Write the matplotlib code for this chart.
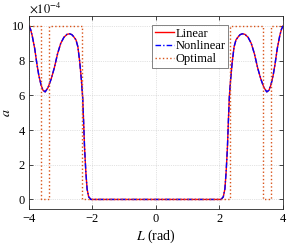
import numpy as np
import matplotlib
matplotlib.use('Agg')
import matplotlib.pyplot as plt

plt.rcParams['font.family'] = ['Liberation Serif', 'DejaVu Serif']
plt.rcParams['mathtext.fontset'] = 'stix'

# curve values, a in units of 1e-4
L_curve = [-4.0, -3.95, -3.9, -3.82, -3.75, -3.69, -3.62, -3.56, -3.49, -3.4,
           -3.3, -3.2, -3.1, -3.0, -2.9, -2.8, -2.72, -2.65, -2.6, -2.52,
           -2.46, -2.4, -2.35, -2.31, -2.28, -2.25, -2.21, -2.17, -2.12, -2.05,
           -2.0, 2.0,
           2.05, 2.12, 2.17, 2.21, 2.25, 2.28, 2.31, 2.35, 2.4, 2.46,
           2.52, 2.6, 2.65, 2.72, 2.8, 2.9, 3.0, 3.1, 3.2, 3.3,
           3.4, 3.49, 3.56, 3.62, 3.69, 3.75, 3.82, 3.9, 3.95, 4.0]
a_linear = [10.0, 9.8, 9.45, 8.7, 7.8, 7.15, 6.6, 6.3, 6.2, 6.45,
            6.95, 7.6, 8.4, 9.0, 9.35, 9.52, 9.55, 9.5, 9.4, 9.2,
            8.8, 7.9, 6.9, 5.9, 4.5, 3.0, 1.6, 0.6, 0.15, 0.0,
            0.0, 0.0,
            0.0, 0.15, 0.6, 1.6, 3.0, 4.5, 5.9, 6.9, 7.9, 8.8,
            9.2, 9.4, 9.5, 9.55, 9.52, 9.35, 9.0, 8.4, 7.6, 6.95,
            6.45, 6.2, 6.3, 6.6, 7.15, 7.8, 8.7, 9.45, 9.8, 10.0]
a_nonlinear = list(a_linear)  # same as linear within line width

# bang-bang optimal control, switch points
L_opt = [-4.0, -3.62, -3.37, -2.33, 2.33, 3.37, 3.62, 4.0]
a_opt = [10, 0, 10, 0, 10, 0, 10, 10]

fig = plt.figure(figsize=(2.87, 2.45), dpi=100)
ax = fig.add_axes([0.101, 0.147, 0.885, 0.788])

ax.plot(L_curve, a_linear, color='r', lw=1.0, label='Linear')
ax.plot(L_curve, a_nonlinear, color='b', lw=1.0, ls=(0, (4, 1.5, 1, 1.5)), label='Nonlinear')
ax.plot(L_opt, a_opt, color='#D95319', lw=1.0, ls=':', drawstyle='steps-post', label='Optimal')

ax.set_xlim(-4, 4)
ax.set_ylim(-0.55, 10.58)
ax.set_xticks([-4, -2, 0, 2, 4])
ax.set_yticks([0, 2, 4, 6, 8, 10])
ax.tick_params(direction='in', top=True, right=True, labelsize=9, length=3, width=0.5, pad=3)
for s in ax.spines.values():
    s.set_linewidth(0.6)
    s.set_color('#262626')
ax.grid(True, ls=':', lw=0.5, color='#c8c8c8')

ax.set_xlabel(r'$L$ (rad)', fontsize=10, labelpad=2)
ax.set_ylabel(r'$a$', fontsize=10)
ax.yaxis.set_label_coords(-0.062, 0.5)
ax.text(0.0, 1.0, r'$\times10^{-4}$', transform=ax.transAxes, fontsize=9, va='bottom', ha='left')

leg = ax.legend(loc='upper left', bbox_to_anchor=(0.485, 0.955), fontsize=9, handlelength=1.5,
                borderpad=0.25, labelspacing=0.05, handletextpad=0.1, borderaxespad=0.0, fancybox=False)
leg.get_frame().set_edgecolor('#262626')
leg.get_frame().set_linewidth(0.5)

plt.savefig('out.png', dpi=100)
